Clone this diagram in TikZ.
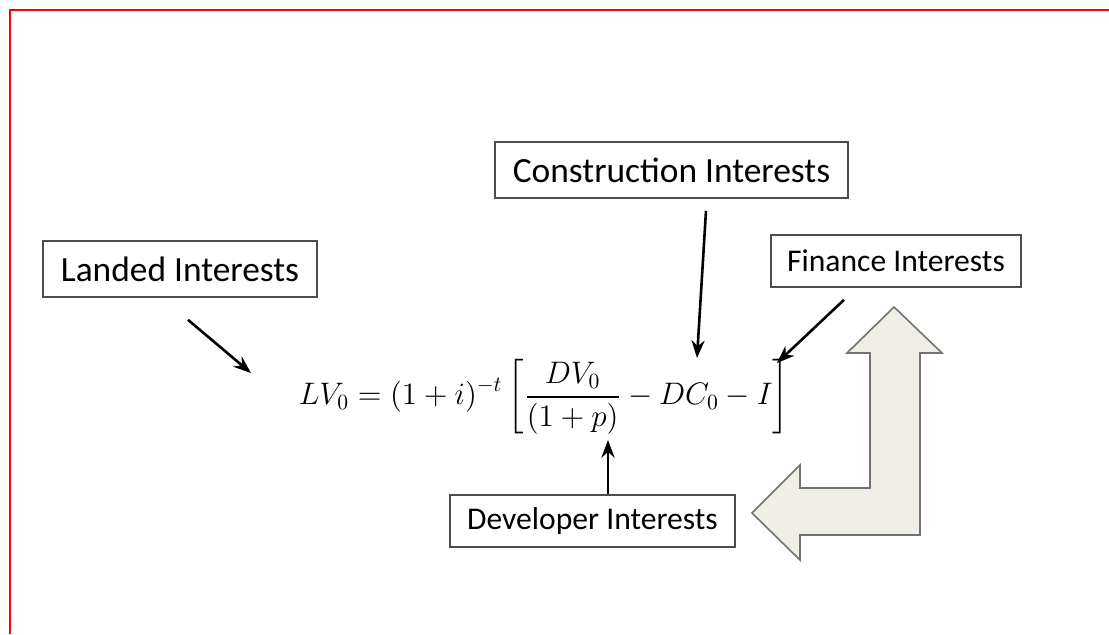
\documentclass[tikz,border=0pt]{standalone}
\usepackage[no-math]{fontspec}
\usepackage{amsmath}
\usetikzlibrary{arrows.meta}
\newfontfamily\boxfont{Carlito}
\definecolor{arrowfill}{RGB}{240,238,230}

\begin{document}
\begin{tikzpicture}[x=0.5pt, y=-0.5pt, >=Stealth,
    main/.style = {draw=black!70, line width=0.8pt, font=\boxfont\fontsize{17.7}{20}\selectfont, minimum height=28pt},
    small/.style = {main, font=\boxfont\fontsize{15.8}{18}\selectfont, minimum height=26pt},
    link/.style = {->, line width=1.3pt}]
        \useasboundingbox (0,0) rectangle (1109,634);
        \draw[red, line width=1pt] (10,634) -- (10,10) -- (1109,10);
        % the formula
        \node (eq) at (544,397) {\scalebox{1.08}{\fontsize{14.4}{17}\selectfont$\displaystyle LV_0=(1+i)^{-t}\left[\frac{DV_0}{(1+p)}-DC_0-I\right]$}};
        \node[main, minimum width=137pt] (land) at (180,269) {Landed Interests};
        \node[main, minimum width=176.5pt] (constr) at (671.5,170) {Construction Interests};
        \node[small, minimum width=125pt] (fin) at (896,261) {Finance Interests};
        \node[small, minimum width=142.5pt] (dev) at (592.5,521) {Developer Interests};
        \coordinate (landend) at (251,373);
        \coordinate (constrend) at (697,358);
        \coordinate (finend) at (777,363);
        \coordinate (devend) at (608,440);
        \draw[link] ([xshift=4pt, yshift=-11pt]land.south) -- (landend);
        \draw[link] ([xshift=17.25pt, yshift=-6pt]constr.south) -- (constrend);
        \draw[link] ([xshift=-26pt, yshift=-6pt]fin.south) -- (finend);
        \draw[link] ([xshift=7.75pt]dev.north) -- (devend);
        % bent block arrow
        \draw[draw=black!55, line width=0.8pt, fill=arrowfill, line join=miter]
            (894,307) -- (942,353) -- (920,353) -- (920,535) -- (800,535) -- (800,560)
            -- (752,513) -- (800,465) -- (800,488) -- (870,488) -- (870,353) -- (847,353) -- cycle;
    \end{tikzpicture}
\end{document}
